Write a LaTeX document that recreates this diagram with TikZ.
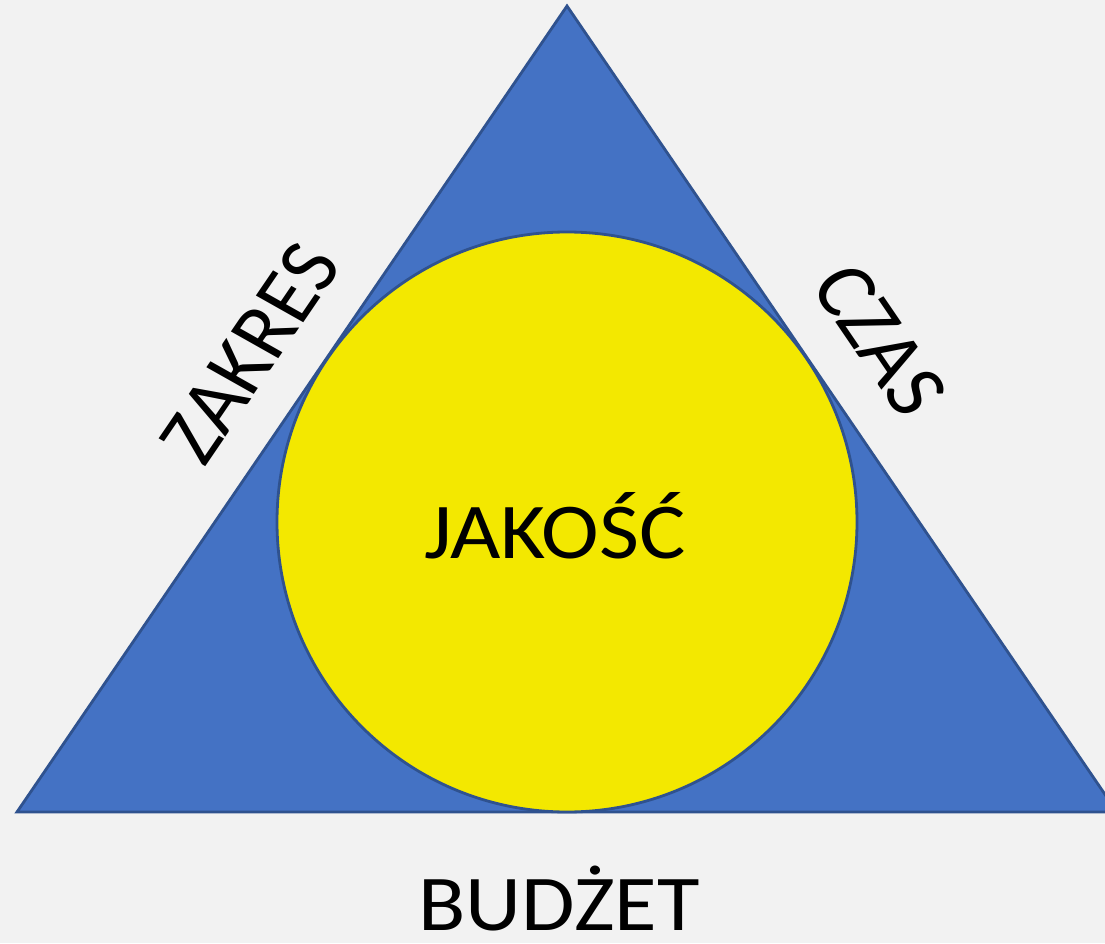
\documentclass[tikz,border=0pt]{standalone}
\usepackage{fontspec}
\setmainfont{Carlito}
\usetikzlibrary{calc}

\definecolor{tlo}{RGB}{242,242,242}
\definecolor{niebieski}{RGB}{68,114,196}
\definecolor{obrys}{RGB}{47,82,143}
\definecolor{zolty}{RGB}{243,232,0}

\tikzset{
    napis/.style={font=\fontsize{22.5}{26}\selectfont, text=black, inner sep=0pt, xscale=1.1}
}

\begin{document}
\begin{tikzpicture}[]
        % 背景
        \fill [tlo] (0,0) rectangle (11.05,9.43);
        \useasboundingbox (0,0) rectangle (11.05,9.43);

        % 三角形顶点
        \coordinate (A) at (5.67,9.37);
        \coordinate (B) at (0.17,1.31);
        \coordinate (C) at (11.17,1.31);
        \coordinate (O) at (5.67,4.21);

        % 绘制三角形
        \begin{scope}
            \clip (0,0) rectangle (11.05,9.43);
            \draw [fill=niebieski, draw=obrys, line width=0.8pt, line join=miter]
                (A) -- (B) -- (C) -- cycle;
        \end{scope}

        % 绘制内切圆
        \draw [fill=zolty, draw=obrys, line width=0.8pt] (O) circle (2.90);

        % 标记文字
        \node [napis, rotate=58.2] (zakres) at (2.50,5.90) {ZAKRES};
        \node [napis, rotate=-58.2] (czas) at (8.80,6.03) {CZAS};
        \node [napis, anchor=base] (jakosc) at (5.55,3.85) {JAKOŚĆ};
        \node [napis, anchor=base] (budzet) at (5.59,0.13) {BUDŻET};

    \end{tikzpicture}
\end{document}
